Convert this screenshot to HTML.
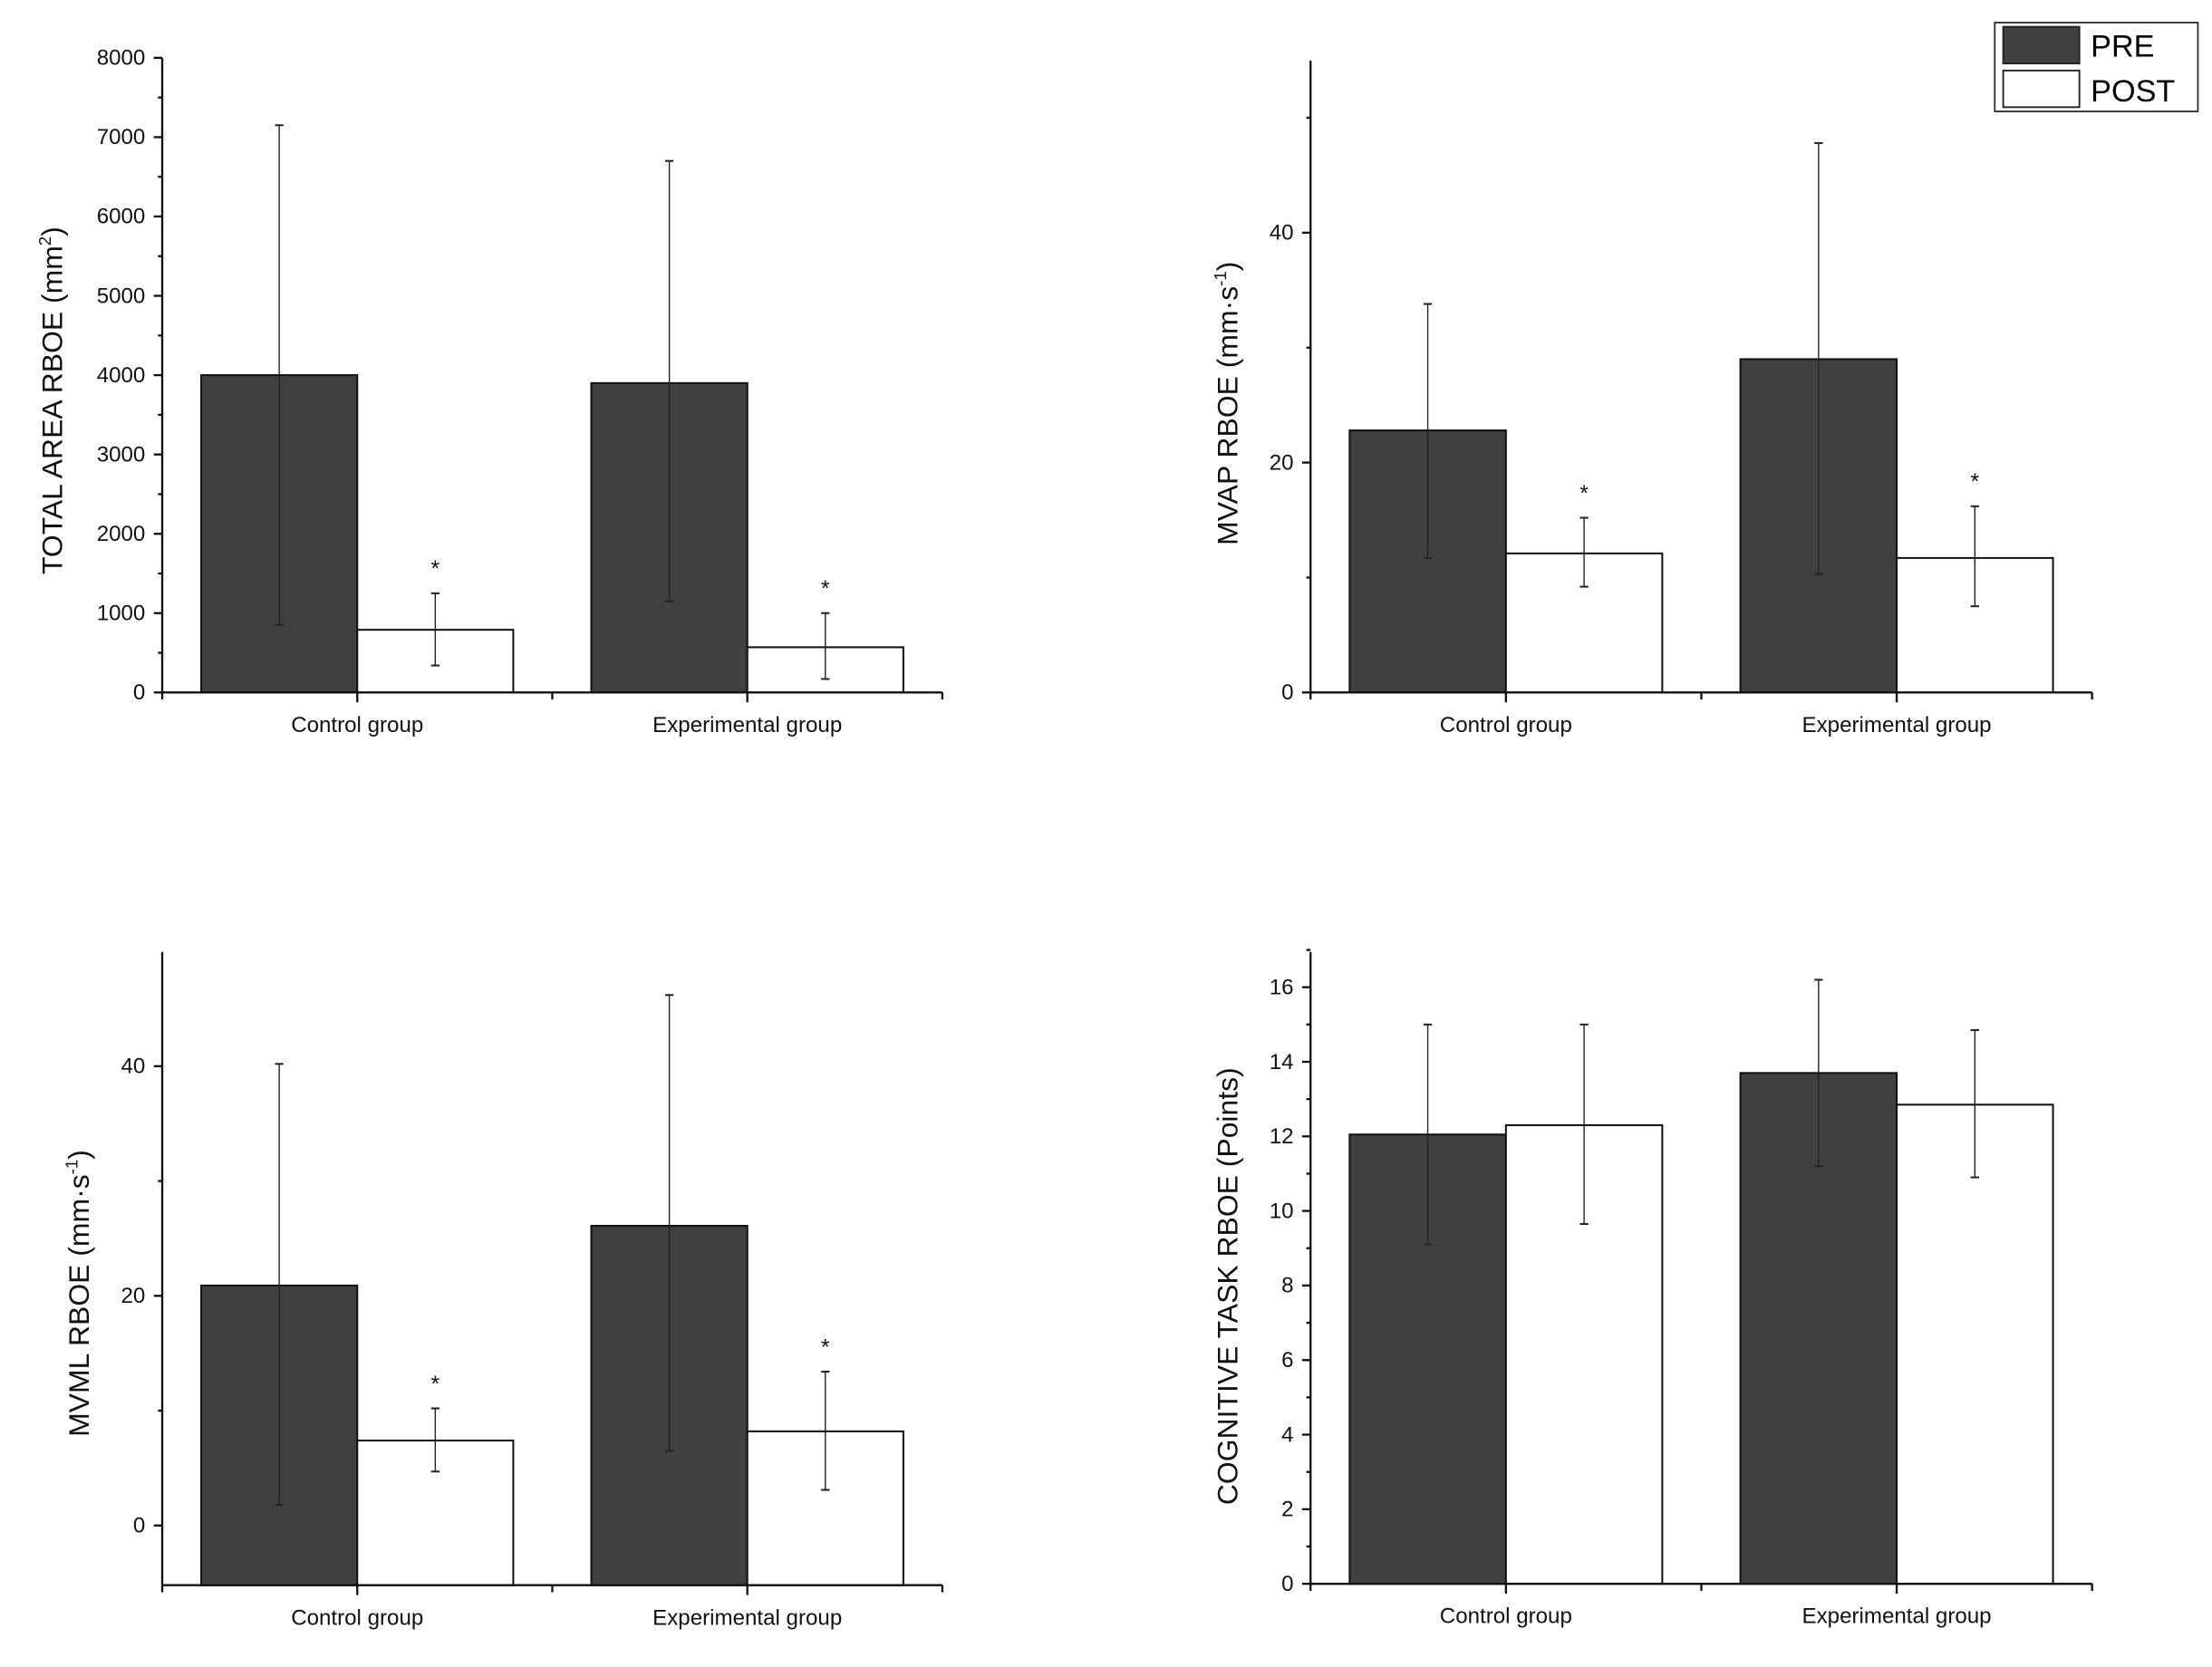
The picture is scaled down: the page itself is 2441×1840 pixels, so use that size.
<!DOCTYPE html>
<html><head><meta charset="utf-8"><style>
html,body{margin:0;padding:0;background:#fff;}
svg{display:block;font-family:"Liberation Sans",Arial,sans-serif;}
</style></head><body>
<svg id="fig" width="2441" height="1840" viewBox="0 0 1568 1182" preserveAspectRatio="none" xmlns="http://www.w3.org/2000/svg">
<g>
<rect x="1414" y="16" width="144" height="63" fill="#fff" stroke="#333" stroke-width="1.2"/>
<rect x="1420" y="19" width="54" height="26" fill="#404040" stroke="#222" stroke-width="1.2"/>
<text x="1482" y="40" font-size="22">PRE</text>
<rect x="1420" y="50" width="54" height="26" fill="#fff" stroke="#222" stroke-width="1.2"/>
<text x="1482" y="72" font-size="22">POST</text>
</g>
</svg>
<script>
const categories = ["Control group", "Experimental group"];
const areaPre = [4000, 3900], areaPost = [790, 570];
const areaPreLo = [850, 1150], areaPreHi = [7150, 6700];
const areaPostLo = [340, 170], areaPostHi = [1250, 1000];
const areaTicks = [0,1000,2000,3000,4000,5000,6000,7000,8000];
const mvapPre = [22.8, 29.0], mvapPost = [12.1, 11.7];
const mvapPreLo = [11.7, 10.3], mvapPreHi = [33.8, 47.8];
const mvapPostLo = [9.2, 7.5], mvapPostHi = [15.2, 16.2];
const mvapTicks = [0,20,40];
const mvmlPre = [20.9, 26.1], mvmlPost = [7.4, 8.2];
const mvmlPreLo = [1.8, 6.5], mvmlPreHi = [40.2, 46.2];
const mvmlPostLo = [4.7, 3.1], mvmlPostHi = [10.2, 13.4];
const mvmlTicks = [0,20,40];
const cogPre = [12.05, 13.7], cogPost = [12.3, 12.85];
const cogPreLo = [9.1, 11.2], cogPreHi = [15.0, 16.2];
const cogPostLo = [9.65, 10.9], cogPostHi = [15.0, 14.85];
const cogTicks = [0,2,4,6,8,10,12,14,16];

const NS = "http://www.w3.org/2000/svg";
const svg = document.getElementById('fig');
function mk(tag, attrs, parent){const e=document.createElementNS(NS,tag);for(const k in attrs)e.setAttribute(k,attrs[k]);(parent||svg).appendChild(e);return e;}

function chart(o){
  const g = mk('g',{});
  
  
  const y = v => o.y0 + (v - o.ymin)/(o.ymax - o.ymin)*(o.y1 - o.y0);
  const x0=o.x0, x1=o.x1, W=x1-x0;
  const groupW = W/2, barW = groupW*0.4;
  const base = y(o.ymin);
  categories.forEach((c,i)=>{
    const cx = x0 + groupW*(i+0.5);
    [[o.pre,o.preLo,o.preHi,'#404040',-1,'pre'],[o.post,o.postLo,o.postHi,'#ffffff',0,'post']].forEach(s=>{
      const bx = cx + s[4]*barW;
      const r = mk('rect',{x:bx,y:y(s[0][i]),width:barW,height:base-y(s[0][i]),fill:s[3],stroke:'#111','stroke-width':1.3},g);
      
      
      const ex = bx + barW/2;
      const eg = mk('g',{stroke:'#222','stroke-width':0.9},g);
      
      
      mk('line',{x1:ex,x2:ex,y1:y(s[1][i]),y2:y(s[2][i])},eg);
      mk('line',{x1:ex-3,x2:ex+3,y1:y(s[1][i]),y2:y(s[1][i]),'stroke-width':1.3},eg);
      mk('line',{x1:ex-3,x2:ex+3,y1:y(s[2][i]),y2:y(s[2][i]),'stroke-width':1.3},eg);
      if(s[5]==='post' && o.star){
        const t = mk('text',{x:ex,y:y(s[2][i])-12,'font-size':16,'text-anchor':'middle',fill:'#111'},g);
        t.textContent='*';
        
        
      }
    });
    const lt = mk('text',{x:cx,y:base+28,'font-size':15.5,'text-anchor':'middle',fill:'#111'},g);
    lt.textContent=c;
    
    
  });
  const ax = mk('g',{stroke:'#111','stroke-width':1.5},g);
  
  
  mk('line',{x1:x0,x2:x0,y1:o.top,y2:base},ax);
  mk('line',{x1:x0,x2:x1,y1:base,y2:base},ax);
  for(let k=0;k<=4;k++){const xx=x0+W*k/4;mk('line',{x1:xx,x2:xx,y1:base,y2:base+(k%2?7:5)},ax);}
  o.ticks.forEach(v=>{
    mk('line',{x1:x0-6,x2:x0,y1:y(v),y2:y(v)},ax);
    const t = mk('text',{x:x0-12,y:y(v)+5,'font-size':15.5,'text-anchor':'end',fill:'#111',stroke:'none'},g);
    t.textContent=v;
    
    
  });
  o.minor.forEach(v=>mk('line',{x1:x0-3,x2:x0,y1:y(v),y2:y(v)},ax));
  const tt = mk('text',{x:0,y:0,'font-size':20.5,'text-anchor':'middle',fill:'#111',transform:`translate(${o.titleX},${o.titleY}) rotate(-90)`},g);
  tt.innerHTML = o.title;
  
  
}
chart({name:'chart-total-area',x0:115,x1:668,y0:491,y1:41,top:41,ymin:0,ymax:8000,ticks:areaTicks,minor:[500,1500,2500,3500,4500,5500,6500,7500],
 pre:areaPre,post:areaPost,preLo:areaPreLo,preHi:areaPreHi,postLo:areaPostLo,postHi:areaPostHi,star:true,titleX:44,titleY:284,
 title:'TOTAL AREA RBOE (mm<tspan dy="-8" font-size="12">2</tspan><tspan dy="8">)</tspan>'});
chart({name:'chart-mvap',x0:929,x1:1483,y0:491,y1:165,top:43,ymin:0,ymax:40,ticks:mvapTicks,minor:[10,30,50],
 pre:mvapPre,post:mvapPost,preLo:mvapPreLo,preHi:mvapPreHi,postLo:mvapPostLo,postHi:mvapPostHi,star:true,titleX:877,titleY:286,
 title:'MVAP RBOE (mm·s<tspan dy="-8" font-size="12">-1</tspan><tspan dy="8">)</tspan>'});
chart({name:'chart-mvml',x0:115,x1:668,y0:1124,y1:756,top:675,ymin:-5.2,ymax:40,ticks:mvmlTicks,minor:[10,30],
 pre:mvmlPre,post:mvmlPost,preLo:mvmlPreLo,preHi:mvmlPreHi,postLo:mvmlPostLo,postHi:mvmlPostHi,star:true,titleX:63,titleY:917,
 title:'MVML RBOE (mm·s<tspan dy="-8" font-size="12">-1</tspan><tspan dy="8">)</tspan>'});
chart({name:'chart-cognitive',x0:929,x1:1483,y0:1123,y1:700,top:675,ymin:0,ymax:16,ticks:cogTicks,minor:[1,3,5,7,9,11,13,15,17],
 pre:cogPre,post:cogPost,preLo:cogPreLo,preHi:cogPreHi,postLo:cogPostLo,postHi:cogPostHi,star:false,titleX:877,titleY:912,
 title:'COGNITIVE TASK RBOE (Points)'});
</script>
</body></html>
